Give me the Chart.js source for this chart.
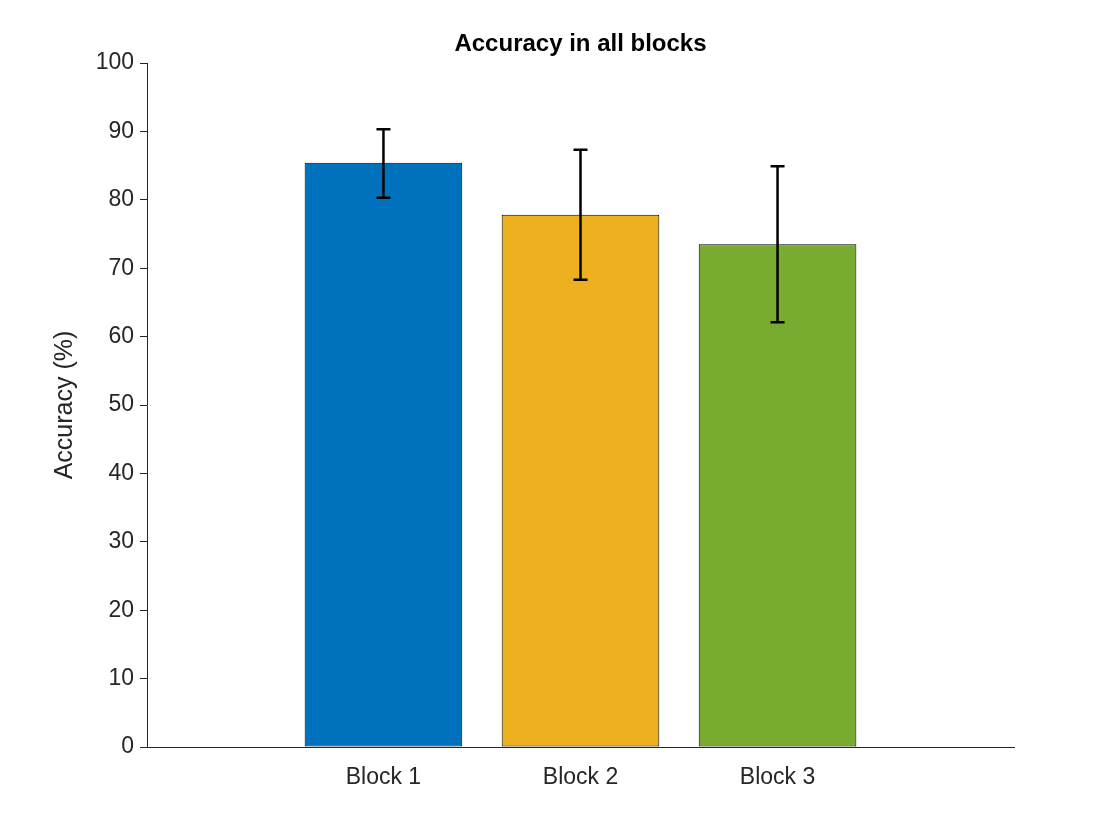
<!DOCTYPE html>
<html><head><meta charset="utf-8">
<script src="https://cdn.jsdelivr.net/npm/chart.js@4"></script>
<style>body{margin:0;background:#fff}#c{display:block}</style>
</head><body>
<canvas id="c" width="1120" height="840"></canvas>
<script>
const categories = ['Block 1', 'Block 2', 'Block 3'];
const positions = [1, 2, 3];
const accuracy = [85.4, 77.8, 73.5];
const errLow = [80.3, 68.3, 62.1];
const errHigh = [90.3, 87.3, 84.9];
const barColors = ['#0072BD', '#EDB120', '#77AC30'];
const yTicks = [0, 10, 20, 30, 40, 50, 60, 70, 80, 90, 100];

const errorBars = {
  id: 'errorBars',
  afterDatasetsDraw(chart) {
    const { ctx, scales: { x, y } } = chart;
    ctx.save();
    ctx.strokeStyle = '#000';
    ctx.lineWidth = 2.5;
    positions.forEach((p, i) => {
      const px = x.getPixelForValue(p);
      const lo = y.getPixelForValue(errLow[i]), hi = y.getPixelForValue(errHigh[i]);
      ctx.beginPath();
      ctx.moveTo(px, lo); ctx.lineTo(px, hi);
      ctx.moveTo(px - 7, lo); ctx.lineTo(px + 7, lo);
      ctx.moveTo(px - 7, hi); ctx.lineTo(px + 7, hi);
      ctx.stroke();
    });
    ctx.fillStyle = '#000';
    ctx.font = 'bold 24px Arial, "Liberation Sans", sans-serif';
    ctx.textAlign = 'center';
    ctx.textBaseline = 'middle';
    ctx.fillText('Accuracy in all blocks', (chart.chartArea.left + chart.chartArea.right) / 2, 44);
    ctx.restore();
  }
};

new Chart(document.getElementById('c'), {
  type: 'bar',
  data: {
    datasets: [{
      data: positions.map((p, i) => ({ x: p, y: accuracy[i] })),
      backgroundColor: barColors,
      borderColor: '#000',
      borderWidth: 1,
      borderSkipped: false,
      barPercentage: 0.8,
      categoryPercentage: 1
    }]
  },
  options: {
    responsive: false,
    animation: false,
    layout: { padding: { top: 63, right: 106, left: 50, bottom: 0 } },
    plugins: { legend: { display: false }, tooltip: { enabled: false }, title: { display: false } },
    scales: {
      x: {
        type: 'linear', min: -0.2, max: 4.2, offset: false,
        afterBuildTicks: s => { s.ticks = positions.map(v => ({ value: v })); },
        afterFit: s => { s.height = 93; },
        ticks: {
          callback: v => categories[positions.indexOf(v)] || '',
          color: '#262626', font: { size: 23, family: 'Arial, "Liberation Sans", sans-serif' }, padding: 17,
          maxRotation: 0
        },
        grid: { drawOnChartArea: false, tickLength: 0, color: '#262626' },
        border: { color: '#262626', width: 1 }
      },
      y: {
        min: 0, max: 100,
        afterBuildTicks: s => { s.ticks = yTicks.map(v => ({ value: v })); },
        afterFit: s => { s.width = 97; },
        ticks: {
          color: '#262626', font: { size: 23, family: 'Arial, "Liberation Sans", sans-serif' }, padding: 6
        },
        title: {
          display: true, text: 'Accuracy (%)', color: '#262626',
          font: { size: 25, family: 'Arial, "Liberation Sans", sans-serif' }, padding: 0
        },
        grid: { drawOnChartArea: false, tickLength: 7, color: '#262626' },
        border: { color: '#262626', width: 1 }
      }
    }
  },
  plugins: [errorBars]
});
</script>
</body></html>
